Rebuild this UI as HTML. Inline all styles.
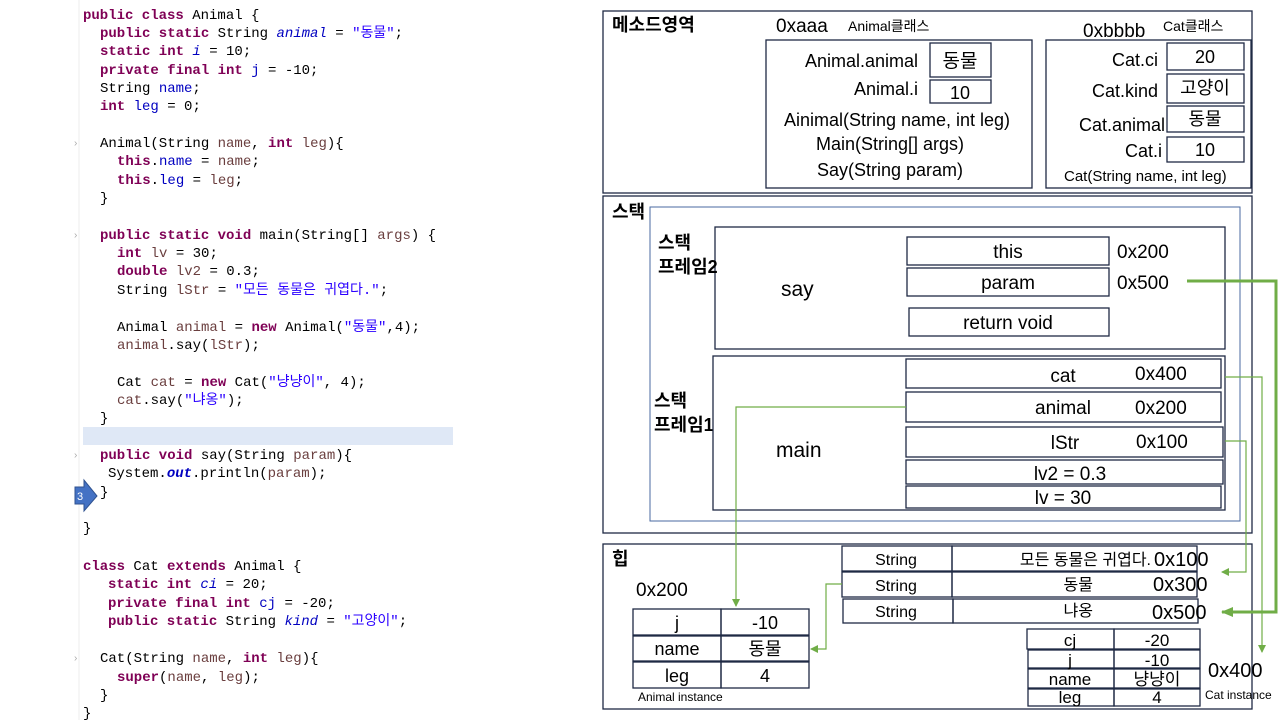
<!DOCTYPE html>
<html><head><meta charset="utf-8">
<style>
html,body{margin:0;padding:0;background:#fff;width:1280px;height:720px;overflow:hidden}
svg{display:block}
.c{font-family:"Liberation Mono","Noto Sans CJK KR",monospace;font-size:14px;fill:#000}
.k{fill:#7f0055;font-weight:bold}
.s{fill:#2a00ff}
.f{fill:#0000c0}
.v{fill:#6a3e3e}
.t{font-family:"Liberation Sans","Noto Sans CJK KR",sans-serif;fill:#000}
.b{fill:none;stroke:#1f2a44;stroke-width:1.3}
.g{fill:none;stroke:#70ad47;stroke-width:1.2}
</style></head><body>
<svg width="1280" height="720" viewBox="0 0 1280 720" xmlns="http://www.w3.org/2000/svg">
<defs>
<marker id="ar" markerWidth="8" markerHeight="8" refX="7" refY="4" orient="auto" markerUnits="userSpaceOnUse"><path d="M0,0 L8,4 L0,8 z" fill="#70ad47"/></marker>
<marker id="ar2" markerWidth="12" markerHeight="10" refX="11" refY="5" orient="auto" markerUnits="userSpaceOnUse"><path d="M0,0 L12,5 L0,10 z" fill="#70ad47"/></marker>
</defs>
<!-- left code -->
<line x1="79" y1="0" x2="79" y2="720" stroke="#eee"/>
<rect x="83" y="427" width="370" height="18" fill="#dfe8f6"/>
<g class="c" xml:space="preserve">
<text x="83" y="19"><tspan class="k">public class</tspan> Animal {</text>
<text x="100" y="37"><tspan class="k">public static</tspan> String <tspan class="f" font-style="italic">animal</tspan> = <tspan class="s">"동물"</tspan>;</text>
<text x="100" y="55"><tspan class="k">static int</tspan> <tspan class="f" font-style="italic">i</tspan> = 10;</text>
<text x="100" y="74"><tspan class="k">private final int</tspan> <tspan class="f">j</tspan> = -10;</text>
<text x="100" y="92">String <tspan class="f">name</tspan>;</text>
<text x="100" y="110"><tspan class="k">int</tspan> <tspan class="f">leg</tspan> = 0;</text>
<text x="100" y="147">Animal(String <tspan class="v">name</tspan>, <tspan class="k">int</tspan> <tspan class="v">leg</tspan>){</text>
<text x="117" y="165"><tspan class="k">this</tspan>.<tspan class="f">name</tspan> = <tspan class="v">name</tspan>;</text>
<text x="117" y="184"><tspan class="k">this</tspan>.<tspan class="f">leg</tspan> = <tspan class="v">leg</tspan>;</text>
<text x="100" y="202">}</text>
<text x="100" y="239"><tspan class="k">public static void</tspan> main(String[] <tspan class="v">args</tspan>) {</text>
<text x="117" y="257"><tspan class="k">int</tspan> <tspan class="v">lv</tspan> = 30;</text>
<text x="117" y="275"><tspan class="k">double</tspan> <tspan class="v">lv2</tspan> = 0.3;</text>
<text x="117" y="294">String <tspan class="v">lStr</tspan> = <tspan class="s">"모든 동물은 귀엽다."</tspan>;</text>
<text x="117" y="331">Animal <tspan class="v">animal</tspan> = <tspan class="k">new</tspan> Animal(<tspan class="s">"동물"</tspan>,4);</text>
<text x="117" y="349"><tspan class="v">animal</tspan>.say(<tspan class="v">lStr</tspan>);</text>
<text x="117" y="386">Cat <tspan class="v">cat</tspan> = <tspan class="k">new</tspan> Cat(<tspan class="s">"냥냥이"</tspan>, 4);</text>
<text x="117" y="404"><tspan class="v">cat</tspan>.say(<tspan class="s">"냐옹"</tspan>);</text>
<text x="100" y="422">}</text>
<text x="100" y="459"><tspan class="k">public void</tspan> say(String <tspan class="v">param</tspan>){</text>
<text x="108" y="477">System.<tspan class="f" font-style="italic" font-weight="bold">out</tspan>.println(<tspan class="v">param</tspan>);</text>
<text x="100" y="496">}</text>
<text x="83" y="532">}</text>
<text x="83" y="570"><tspan class="k">class</tspan> Cat <tspan class="k">extends</tspan> Animal {</text>
<text x="108" y="588"><tspan class="k">static int</tspan> <tspan class="f" font-style="italic">ci</tspan> = 20;</text>
<text x="108" y="607"><tspan class="k">private final int</tspan> <tspan class="f">cj</tspan> = -20;</text>
<text x="108" y="625"><tspan class="k">public static</tspan> String <tspan class="f" font-style="italic">kind</tspan> = <tspan class="s">"고양이"</tspan>;</text>
<text x="100" y="662">Cat(String <tspan class="v">name</tspan>, <tspan class="k">int</tspan> <tspan class="v">leg</tspan>){</text>
<text x="117" y="681"><tspan class="k">super</tspan>(<tspan class="v">name</tspan>, <tspan class="v">leg</tspan>);</text>
<text x="100" y="699">}</text>
<text x="83" y="717">}</text>
</g>
<g fill="#aaa" font-size="10" font-family="Liberation Sans"><text x="74" y="146">›</text><text x="74" y="238">›</text><text x="74" y="458">›</text><text x="74" y="661">›</text></g>
<path d="M75,487 L84,487 L84,480 L97,496 L84,511 L84,504 L75,504 z" fill="#4472c4" stroke="#2f528f"/>
<text x="77" y="500" font-size="11" fill="#fff" font-family="Liberation Sans">3</text>

<!-- method area -->
<rect class="b" x="603" y="11" width="649" height="182"/>
<text class="t" x="612" y="31" font-size="18" font-weight="bold">메소드영역</text>
<text class="t" x="776" y="32" font-size="19">0xaaa</text>
<text class="t" x="848" y="31" font-size="14">Animal클래스</text>
<rect class="b" x="766" y="40" width="266" height="148"/>
<g class="t" font-size="18" text-anchor="end"><text x="918" y="67">Animal.animal</text><text x="918" y="95">Animal.i</text></g>
<rect class="b" x="930" y="43" width="61" height="34"/><text class="t" x="960" y="67" font-size="19" text-anchor="middle">동물</text>
<rect class="b" x="930" y="80" width="61" height="23"/><text class="t" x="960" y="99" font-size="18" text-anchor="middle">10</text>
<g class="t" font-size="18" text-anchor="middle"><text x="897" y="126">Ainimal(String name, int leg)</text><text x="890" y="150">Main(String[] args)</text><text x="890" y="176">Say(String param)</text></g>
<text class="t" x="1083" y="37" font-size="19">0xbbbb</text>
<text class="t" x="1163" y="31" font-size="14">Cat클래스</text>
<rect class="b" x="1046" y="40" width="205" height="148"/>
<g class="t" font-size="18" text-anchor="end"><text x="1158" y="66">Cat.ci</text><text x="1158" y="97">Cat.kind</text><text x="1165" y="131">Cat.animal</text><text x="1162" y="157">Cat.i</text></g>
<rect class="b" x="1167" y="43" width="77" height="27"/><text class="t" x="1205" y="63" font-size="18" text-anchor="middle">20</text>
<rect class="b" x="1167" y="74" width="77" height="29"/><text class="t" x="1205" y="94" font-size="18" text-anchor="middle">고양이</text>
<rect class="b" x="1167" y="106" width="77" height="26"/><text class="t" x="1205" y="125" font-size="18" text-anchor="middle">동물</text>
<rect class="b" x="1167" y="137" width="77" height="25"/><text class="t" x="1205" y="156" font-size="18" text-anchor="middle">10</text>
<text class="t" x="1064" y="181" font-size="15">Cat(String name, int leg)</text>

<!-- stack -->
<rect class="b" x="603" y="196" width="649" height="337"/>
<rect x="650" y="207" width="590" height="314" fill="none" stroke="#4a6aa0" stroke-width="1"/>
<text class="t" x="612" y="218" font-size="18" font-weight="bold">스택</text>
<rect class="b" x="715" y="227" width="510" height="122" fill="#fff"/>
<g class="t" font-size="18" font-weight="bold"><text x="658" y="249">스택</text><text x="658" y="273">프레임2</text><text x="654" y="407">스택</text><text x="654" y="431">프레임1</text></g>
<text class="t" x="781" y="296" font-size="21">say</text>
<rect class="b" x="907" y="237" width="202" height="28"/><text class="t" x="1008" y="258" font-size="19" text-anchor="middle">this</text>
<text class="t" x="1117" y="258" font-size="19">0x200</text>
<rect class="b" x="907" y="268" width="202" height="28"/><text class="t" x="1008" y="289" font-size="19" text-anchor="middle">param</text>
<text class="t" x="1117" y="289" font-size="19">0x500</text>
<rect class="b" x="909" y="308" width="200" height="28"/><text class="t" x="1008" y="329" font-size="19" text-anchor="middle">return  void</text>
<rect class="b" x="713" y="356" width="512" height="154" fill="#fff"/>
<text class="t" x="776" y="457" font-size="21">main</text>
<rect class="b" x="906" y="359" width="315" height="29"/>
<rect class="b" x="906" y="392" width="315" height="30"/>
<rect class="b" x="906" y="427" width="317" height="30"/>
<rect class="b" x="906" y="460" width="317" height="24"/>
<rect class="b" x="906" y="486" width="315" height="22"/>
<g class="t" font-size="19" text-anchor="middle"><text x="1063" y="382">cat</text><text x="1063" y="414">animal</text><text x="1065" y="449">lStr</text><text x="1070" y="480">lv2  =  0.3</text><text x="1063" y="504">lv  =  30</text></g>
<g class="t" font-size="19"><text x="1135" y="380">0x400</text><text x="1135" y="414">0x200</text><text x="1136" y="448">0x100</text></g>

<!-- heap -->
<rect class="b" x="603" y="544" width="649" height="165"/>
<text class="t" x="612" y="565" font-size="18" font-weight="bold">힙</text>
<text class="t" x="636" y="596" font-size="19">0x200</text>
<rect class="b" x="633" y="609" width="88" height="26"/><rect class="b" x="721" y="609" width="88" height="26"/>
<rect class="b" x="633" y="636" width="88" height="25"/><rect class="b" x="721" y="636" width="88" height="25"/>
<rect class="b" x="633" y="662" width="88" height="26"/><rect class="b" x="721" y="662" width="88" height="26"/>
<g class="t" font-size="18" text-anchor="middle"><text x="677" y="629">j</text><text x="765" y="629">-10</text><text x="677" y="655">name</text><text x="765" y="655">동물</text><text x="677" y="682">leg</text><text x="765" y="682">4</text></g>
<text class="t" x="638" y="701" font-size="12">Animal instance</text>
<rect class="b" x="842" y="546" width="110" height="25"/><rect class="b" x="952" y="546" width="245" height="25"/>
<rect class="b" x="842" y="572" width="110" height="25"/><rect class="b" x="952" y="572" width="245" height="25"/>
<rect class="b" x="843" y="599" width="110" height="24"/><rect class="b" x="953" y="599" width="245" height="24"/>
<g class="t" font-size="16" text-anchor="middle"><text x="896" y="565">String</text><text x="896" y="591">String</text><text x="896" y="617">String</text></g>
<g class="t" font-size="16" text-anchor="end"><text x="1151" y="565">모든 동물은 귀엽다.</text><text x="1093" y="590">동물</text><text x="1093" y="616">냐옹</text></g>
<g class="t" font-size="20"><text x="1154" y="566">0x100</text><text x="1153" y="591">0x300</text><text x="1152" y="619">0x500</text></g>
<g class="b">
<rect x="1027" y="629" width="87" height="20"/><rect x="1114" y="629" width="86" height="20"/>
<rect x="1028" y="650" width="86" height="18"/><rect x="1114" y="650" width="86" height="18"/>
<rect x="1028" y="669" width="86" height="19"/><rect x="1114" y="669" width="86" height="19"/>
<rect x="1028" y="689" width="86" height="17"/><rect x="1114" y="689" width="86" height="17"/>
</g>
<g class="t" font-size="17" text-anchor="middle"><text x="1070" y="646">cj</text><text x="1157" y="646">-20</text><text x="1070" y="666">j</text><text x="1157" y="666">-10</text><text x="1070" y="685">name</text><text x="1157" y="685">냥냥이</text><text x="1070" y="703">leg</text><text x="1157" y="703">4</text></g>
<text class="t" x="1208" y="677" font-size="20">0x400</text>
<text class="t" x="1205" y="699" font-size="12">Cat instance</text>

<!-- connectors -->
<polyline points="1187,281 1276,281 1276,612 1222,612" fill="none" stroke="#70ad47" stroke-width="3" marker-end="url(#ar2)"/>
<polyline class="g" points="1225,377 1262,377 1262,652" marker-end="url(#ar)"/>
<polyline class="g" points="1225,441 1246,441 1246,572 1222,572" marker-end="url(#ar)"/>
<polyline class="g" points="906,407 736,407 736,606" marker-end="url(#ar)"/>
<polyline class="g" points="842,584 826,584 826,649 811,649" marker-end="url(#ar)"/>
</svg>
</body></html>
